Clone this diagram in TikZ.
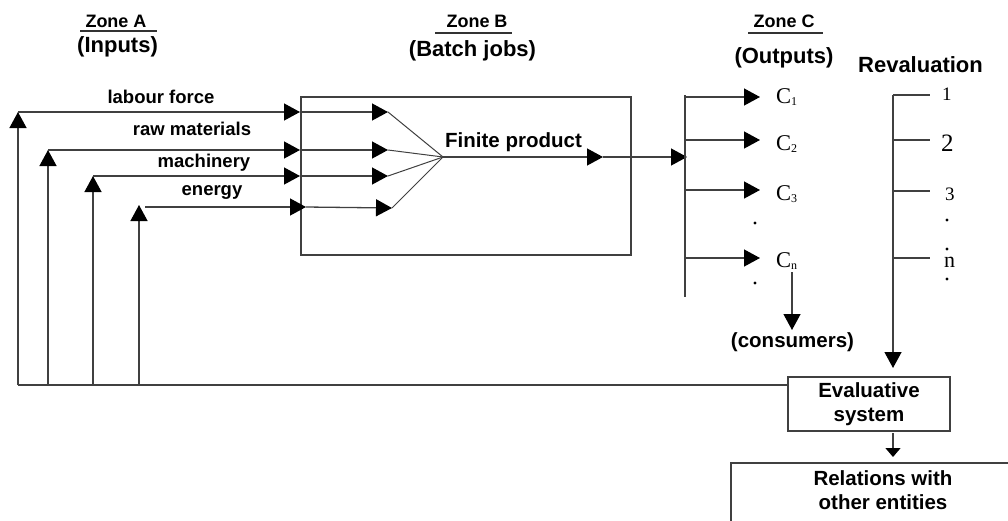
\documentclass[tikz,border=0pt]{standalone}
\usepackage{fontspec}
\setmainfont{Liberation Sans}
\newfontfamily\serifface{Liberation Serif}
\usetikzlibrary{arrows.meta}
\begin{document}
\begin{tikzpicture}[x=1pt,y=-1pt,
  ln/.style={draw=black!75,line width=1.3pt},
  arr/.style={ln,-{Triangle[length=16pt,width=17pt,color=black]}},
  arrs/.style={ln,-{Triangle[length=9pt,width=15pt,color=black]}},
  uline/.style={draw=black!80,line width=1.4pt},
  zonelab/.style={inner sep=0pt,anchor=base,font=\fontsize{18}{22}\selectfont\bfseries},
  head/.style={inner sep=0pt,anchor=base,font=\fontsize{22}{26}\selectfont\bfseries},
  lab/.style={inner sep=0pt,anchor=base,font=\fontsize{18.5}{22}\selectfont\bfseries},
  mid/.style={inner sep=0pt,anchor=base,font=\fontsize{20.5}{24}\selectfont\bfseries},
  clab/.style={inner sep=0pt,anchor=base west,font=\serifface\fontsize{22.5}{24}\selectfont},
  num/.style={inner sep=0pt,anchor=base west,font=\serifface\fontsize{19}{22}\selectfont},
  boxst/.style={ln,rectangle,inner sep=0pt,align=center,font=\fontsize{20.5}{24}\selectfont\bfseries},
  dotst/.style={fill=black}]
\useasboundingbox (0,0) rectangle (1008,520);

% headings
\node[zonelab] (zA) at (116,27) {Zone A};
\coordinate (uA1) at (80,31); \coordinate (uA2) at (157,31);
\draw[uline] (uA1) -- (uA2);
\node[head] (inA) at (117.5,52) {(Inputs)};
\node[zonelab] (zB) at (477,27) {Zone B};
\coordinate (uB1) at (435,33); \coordinate (uB2) at (512,33);
\draw[uline] (uB1) -- (uB2);
\node[head] (inB) at (472.5,56) {(Batch jobs)};
\node[zonelab] (zC) at (784,27) {Zone C};
\coordinate (uC1) at (748,33); \coordinate (uC2) at (823,33);
\draw[uline] (uC1) -- (uC2);
\node[head] (inC) at (784,63) {(Outputs)};
\node[head] (rev) at (920.5,72) {Revaluation};

% input labels
\node[lab] (lf) at (161,103) {labour force};
\node[lab] (rm) at (192,135) {raw materials};
\node[lab] (mc) at (204,167) {machinery};
\node[lab] (en) at (212,195) {energy};

% batch box
\node[ln,rectangle,inner sep=0pt,minimum width=330pt,minimum height=158pt] (boxB) at (466,176) {};
\node[mid] (fpl) at (513.5,147) {Finite product};

% coordinates of input lines
\coordinate (v1b) at (18,385); \coordinate (v1t) at (18,112);
\coordinate (h1e) at (300,112); \coordinate (t1) at (388,112);
\coordinate (v2b) at (48,385); \coordinate (v2t) at (48,150);
\coordinate (h2e) at (300,150); \coordinate (t2) at (388,150);
\coordinate (v3b) at (93,385); \coordinate (v3t) at (93,176);
\coordinate (h3e) at (300,176); \coordinate (t3) at (388,176);
\coordinate (v4b) at (139,385); \coordinate (v4t) at (139,205);
\coordinate (h4s) at (145,207); \coordinate (h4e) at (306,207); \coordinate (t4) at (392,208);
\coordinate (conv) at (443,157);
\coordinate (fp) at (603,157);
\coordinate (cin) at (687,157);

\draw[arr] (v1b) -- (v1t);
\draw[arr] (v1t) -- (h1e);
\draw[arr] (h1e) -- (t1);
\draw[arr] (v2b) -- (v2t);
\draw[arr] (v2t) -- (h2e);
\draw[arr] (h2e) -- (t2);
\draw[arr] (v3b) -- (v3t);
\draw[arr] (v3t) -- (h3e);
\draw[arr] (h3e) -- (t3);
\draw[arr] (v4b) -- (v4t);
\draw[arr] (h4s) -- (h4e);
\draw[arr] (h4e) -- (t4);
\draw[ln,line width=1pt] (t1) -- (conv);
\draw[ln,line width=1pt] (t2) -- (conv);
\draw[ln,line width=1pt] (t3) -- (conv);
\draw[ln,line width=1pt] (t4) -- (conv);
\draw[arr] (conv) -- (fp);
\draw[arr] (fp) -- (cin);

% evaluative system
\node[boxst,minimum width=162pt,minimum height=54pt] (eval) at (869,404) {Evaluative\\system};
\draw[ln] (v1b) -- (v1b -| eval.west);

% zone C
\coordinate (cb1) at (685,95); \coordinate (cb2) at (685,297);
\draw[ln] (cb1) -- (cb2);
\coordinate (a1) at (760,97); \coordinate (a2) at (760,140);
\coordinate (a3) at (760,190); \coordinate (an) at (760,258);
\draw[arr] (cb1 |- a1) -- (a1);
\draw[arr] (cb1 |- a2) -- (a2);
\draw[arr] (cb1 |- a3) -- (a3);
\draw[arr] (cb1 |- an) -- (an);
\node[clab] (c1) at (776,103) {C\raisebox{-2pt}{\fontsize{12}{12}\selectfont 1}};
\node[clab] (c2) at (776,150) {C\raisebox{-2pt}{\fontsize{12}{12}\selectfont 2}};
\node[clab] (c3) at (776,200) {C\raisebox{-2pt}{\fontsize{12}{12}\selectfont 3}};
\node[clab] (cn) at (776,267) {C\raisebox{-2pt}{\fontsize{12}{12}\selectfont n}};
\fill[dotst] (755,223) circle (1.7);
\fill[dotst] (755,283) circle (1.7);
\coordinate (cs1) at (792,272); \coordinate (cs2) at (792,330);
\draw[arr] (cs1) -- (cs2);
\node[mid] (cons) at (792.5,347) {(consumers)};

% revaluation
\coordinate (r0) at (893,95); \coordinate (rtip) at (893,368);
\draw[arr] (r0) -- (rtip);
\coordinate (k1) at (930,95); \coordinate (k2) at (930,140);
\coordinate (k3) at (930,191); \coordinate (kn) at (930,258);
\draw[ln] (r0) -- (k1);
\draw[ln] (r0 |- k2) -- (k2);
\draw[ln] (r0 |- k3) -- (k3);
\draw[ln] (r0 |- kn) -- (kn);
\node[num] (n1) at (942,100) {1};
\node[num,font=\serifface\fontsize{25}{26}\selectfont] (n2) at (941,151) {2};
\node[num] (n3) at (945,200) {3};
\node[num,font=\serifface\fontsize{22}{24}\selectfont] (nn) at (944,267) {n};
\fill[dotst] (947,220) circle (1.7);
\fill[dotst] (947,249) circle (1.7);
\fill[dotst] (947,279) circle (1.7);

% relations
\coordinate (e1) at (893,433); \coordinate (e2) at (893,457);
\draw[arrs] (e1) -- (e2);
\coordinate (rel1) at (731,463); \coordinate (rel2) at (1040,560);
\draw[ln] (rel1) rectangle (rel2);
\node[boxst,draw=none,anchor=north] (relt) at (883,469.5) {Relations with\\other entities};
\end{tikzpicture}
\end{document}
